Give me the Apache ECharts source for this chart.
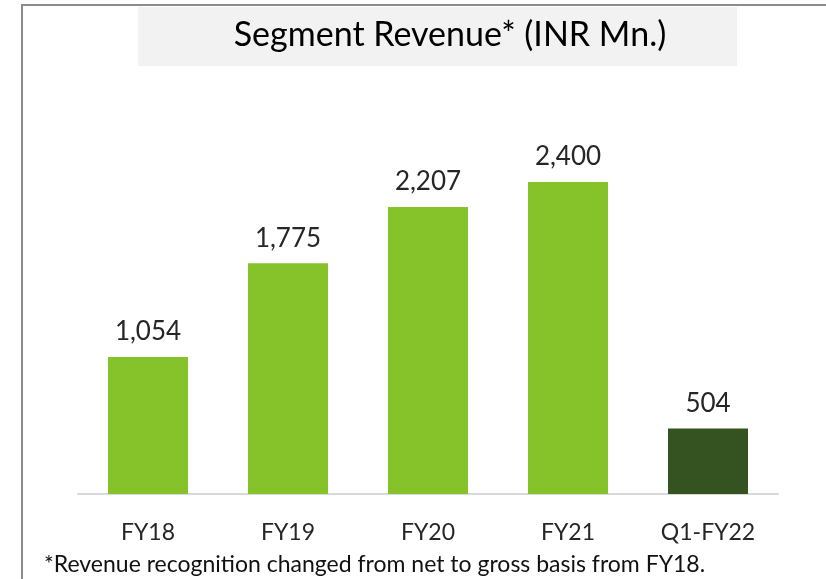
<!DOCTYPE html>
<html>
<head>
<meta charset="utf-8">
<script src="https://cdn.jsdelivr.net/npm/echarts@6/dist/echarts.min.js"></script>
<style>
  html, body { margin: 0; padding: 0; background: #fff; }
  #chart { width: 826px; height: 579px; }
</style>
</head>
<body>
<div id="chart"></div>
<script>
var categories = ['FY18', 'FY19', 'FY20', 'FY21', 'Q1-FY22'];
var revenue = [1054, 1775, 2207, 2400, 504];
var barColors = ['#86c22a', '#86c22a', '#86c22a', '#86c22a', '#355221'];
var chartTitle = 'Segment Revenue* (INR Mn.)';
var footnote = '*Revenue recognition changed from net to gross basis from FY18.';

var chart = echarts.init(document.getElementById('chart'));

var option = {
    animation: false,
    backgroundColor: '#ffffff',
    graphic: [
        {
            type: 'rect',
            shape: { x: 22, y: 5, width: 830, height: 600 },
            style: { fill: 'none', stroke: '#8c8c8c', lineWidth: 2 },
            z: 0
        },
        {
            type: 'rect',
            shape: { x: 138, y: 7, width: 599, height: 59 },
            style: { fill: '#f2f2f2' },
            z: 0
        },
        {
            type: 'text',
            x: 450,
            y: 35,
            style: {
                text: chartTitle,
                fill: '#000000',
                font: '34px Lato',
                align: 'center',
                verticalAlign: 'middle'
            },
            z: 2
        },
        {
            type: 'text',
            x: 44,
            y: 565,
            style: {
                text: footnote,
                fill: '#111111',
                font: '23px Lato',
                align: 'left',
                verticalAlign: 'middle'
            },
            z: 2
        }
    ],
    grid: {
        left: 78,
        right: 48,
        top: 104,
        bottom: 85
    },
    xAxis: {
        type: 'category',
        data: categories,
        axisLine: { lineStyle: { color: '#d9d9d9', width: 2 } },
        axisTick: { show: false },
        axisLabel: {
            color: '#262626',
            fontFamily: 'Lato',
            fontSize: 23,
            margin: 27
        }
    },
    yAxis: {
        type: 'value',
        min: 0,
        max: 3000,
        show: false,
        splitLine: { show: false }
    },
    series: [
        {
            type: 'bar',
            barWidth: 80,
            data: revenue.map(function (v, i) {
                return { value: v, itemStyle: { color: barColors[i] } };
            }),
            label: {
                show: true,
                position: 'top',
                distance: 12,
                color: '#262626',
                fontFamily: 'Lato',
                fontSize: 26,
                formatter: function (p) {
                    return p.value.toLocaleString('en-US');
                }
            }
        }
    ]
};

chart.setOption(option);
</script>
</body>
</html>
